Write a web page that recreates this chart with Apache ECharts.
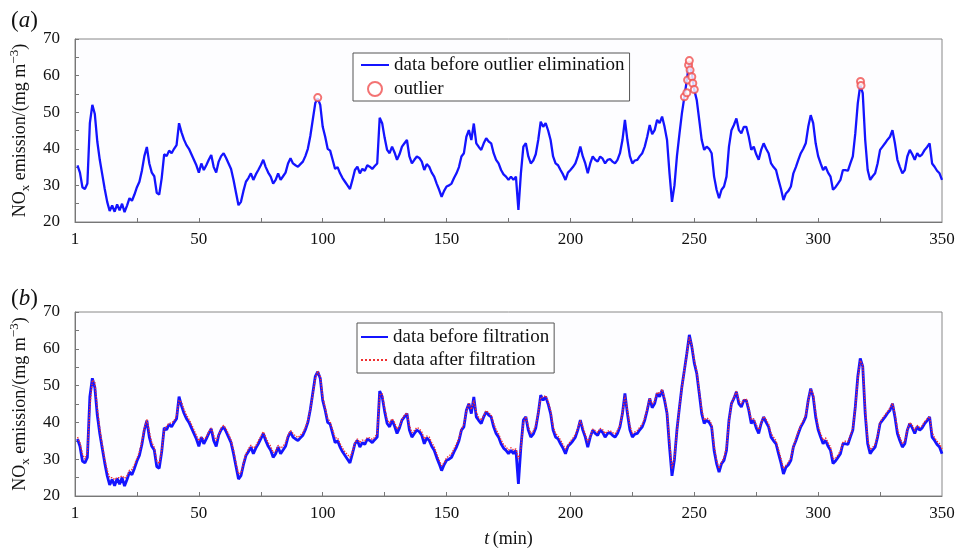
<!DOCTYPE html>
<html>
<head>
<meta charset="utf-8">
<script src="https://cdn.jsdelivr.net/npm/echarts@6/dist/echarts.min.js"></script>
<style>
  html, body { margin: 0; padding: 0; background: #fff; }
  #chart { width: 959px; height: 549px; }
</style>
</head>
<body>
<div id="chart"></div>
<script>
// NOx emission, one value per minute (t = 1..350)
const rawData = [
  35.5, 33.5, 29.5, 29, 30.5, 47, 52, 49.5, 42, 37,
  33, 29, 25.5, 23, 24.5, 22.8, 24.8, 23.2, 25, 22.7,
  24.5, 26.5, 25.8, 27.5, 29.5, 31, 34, 38, 40.5, 36,
  33.5, 32.5, 28, 27.5, 32, 38.5, 38, 39.5, 38.8, 40,
  41, 47, 44.5, 42.5, 41, 40, 38.5, 37, 35.5, 33.5,
  36, 34.2, 35.5, 37, 38.3, 35, 33.5, 36.5, 38, 38.8,
  37.5, 36, 34.5, 31.5, 28, 24.6, 25.5, 28.5, 31, 32,
  33.3, 31.5, 33, 34.2, 35.5, 37, 35, 33.5, 32.4, 30.5,
  31.5, 33.3, 31.5, 32.5, 33.5, 36, 37.4, 36, 35.5, 35.1,
  35.8, 36.5, 38, 40, 43.5, 48, 52.5, 53.8, 52, 46,
  43.3, 40, 39.5, 37, 34.5, 35, 33.3, 32, 31, 30,
  29, 31.5, 34.2, 35.1, 33.3, 34.5, 34, 35.5, 35.1, 34.5,
  35.3, 36, 48.5, 47, 43, 39.7, 38.8, 40.6, 39, 37,
  38.5, 40.6, 41.5, 42.4, 37.9, 36, 37, 37.9, 37.5, 36.5,
  34.2, 35.8, 35.1, 33.5, 32.4, 30.5, 28.8, 26.9, 28.5, 29.7,
  30, 30.5, 32, 33.3, 35, 37.9, 38.8, 43.3, 45.1, 42.4,
  46.9, 41.5, 40.5, 39.7, 41.5, 42.9, 42, 41.5, 38.8, 37,
  36, 34.2, 33, 32.4, 31.5, 32.4, 31.5, 32.4, 23.3, 33.3,
  40.6, 41.5, 37.9, 36, 36.8, 38.5, 42.4, 47.4, 46, 47,
  45, 42.4, 37.9, 36, 35.5, 34.2, 33, 31.5, 33.5, 34.2,
  35, 36, 38, 40.6, 37.9, 36, 33.3, 36, 37.9, 37,
  36.5, 37.9, 37.3, 36, 37, 37.2, 36.5, 36, 37, 38.8,
  42.4, 47.9, 42.4, 38, 36, 36.8, 37, 38, 38.8, 40.6,
  43.3, 46.5, 44, 45.1, 47.9, 47, 48.8, 46, 42.4, 33.3,
  25.5, 30, 38, 44, 49.7, 54.2, 58.8, 63.8, 60.6, 56.1,
  53.3, 47.9, 42.4, 39.7, 40.6, 40, 38.8, 32.4, 28.8, 26.5,
  28.8, 29.7, 32.4, 40.6, 45.1, 46.5, 48.3, 45.1, 44.2, 46,
  46, 43.3, 39.7, 40.6, 38.5, 37, 39.7, 41.5, 40, 38.8,
  36, 35, 34.2, 31.5, 29, 26, 27.8, 28.5, 29.7, 33.3,
  35, 37, 38.8, 40, 41.5, 46, 49.2, 47, 41.5, 38,
  36, 34.2, 35.1, 33.5, 32.4, 28.8, 29.5, 30.5, 31.5, 34.2,
  34.2, 34, 36, 37.9, 44.2, 52.4, 57.4, 55.2, 42.4, 34.2,
  31.5, 32.5, 33.3, 36, 39.7, 40.6, 41.5, 42.5, 43.3, 45.1,
  41.5, 37, 35, 33.3, 34.2, 37.9, 39.7, 38.5, 37, 38.8,
  37.9, 38.5, 39.7, 40.5, 41.5, 36, 35.1, 34, 33.3, 31.5
];

const filteredData = [
  36, 34.5, 31.5, 30, 32, 44, 51.5, 51, 44, 38.5,
  34, 30, 27, 25, 25, 24.5, 25, 25, 25.5, 24.8,
  25.5, 27, 27.2, 28.5, 30.2, 32, 34.8, 38.5, 40.8, 37.5,
  34.5, 33.2, 29.5, 28.8, 32.5, 38, 39, 39.8, 39.8, 40.5,
  41.8, 46, 45.5, 43.5, 42, 40.8, 39.5, 38, 36.5, 35,
  36, 35.5, 36, 37.5, 38.5, 36.5, 35, 36.5, 38.5, 39.2,
  38.2, 36.8, 35.2, 32.5, 29, 26, 26.2, 29, 31.5, 32.8,
  33.8, 33, 33.6, 35, 36.2, 37.5, 36, 34.5, 33.5, 31.8,
  32.2, 33.8, 33, 33.5, 34.5, 36.5, 37.8, 37, 36.3, 35.9,
  36.5, 37.3, 38.6, 40.5, 43.5, 47.5, 51.8, 54, 52.5, 47,
  44, 41, 40.2, 38, 35.8, 35.8, 34.3, 33, 32, 31.2,
  30.5, 32, 34.5, 35.5, 34.5, 35.2, 35, 35.9, 35.8, 35.4,
  35.9, 37, 47.5, 47.8, 44, 40.8, 39.8, 41, 40, 38.2,
  39, 40.9, 42, 42.6, 39.2, 37.2, 37.8, 38.6, 38.3, 37.4,
  35.5, 36.3, 36, 34.5, 33.4, 31.6, 29.8, 28.2, 29, 30.4,
  30.9, 31.4, 32.8, 34.2, 35.8, 38.2, 39.5, 43, 45.2, 43.5,
  46, 42.8, 41.3, 40.6, 41.9, 43.2, 42.6, 42, 39.8, 38,
  36.9, 35.2, 34, 33.3, 32.5, 33.1, 32.5, 32.8, 30, 33,
  39.8, 41.6, 39, 37, 37.6, 39.2, 42.5, 46.8, 46.8, 47.3,
  45.8, 43.2, 39, 37, 36.3, 35.2, 34, 32.7, 33.8, 34.9,
  35.7, 36.7, 38.5, 40.5, 38.8, 36.8, 34.6, 36.2, 38.2, 37.8,
  37.3, 38.4, 38, 37, 37.6, 37.8, 37.2, 36.9, 37.8, 39.3,
  42.5, 47.3, 43.5, 39.2, 37, 37.4, 37.8, 38.7, 39.5, 41.2,
  43.8, 46.6, 45, 45.8, 48.2, 47.8, 49, 46.8, 43, 35,
  27.5, 30.5, 37.5, 44, 49.5, 54, 58.5, 63.2, 61, 57,
  54, 48.8, 43.5, 40.6, 41.2, 40.8, 39.5, 33.8, 29.8, 27.5,
  29.2, 30.5, 33.2, 40, 45, 46.8, 48.5, 46, 45, 46.2,
  46.3, 44, 40.8, 41, 39.4, 38, 39.9, 41.6, 40.8, 39.6,
  37, 36, 35, 32.6, 30.2, 27.5, 28.3, 29.2, 30.4, 33.5,
  35.6, 37.5, 39.3, 40.6, 42, 45.8, 49, 47.8, 42.8, 39,
  37, 35.2, 35.8, 34.5, 33.3, 30.2, 30.2, 31.2, 32.3, 34.6,
  34.9, 34.8, 36.5, 38.5, 43.8, 51.5, 56.8, 55.5, 44, 35.5,
  32.6, 33.2, 34, 36.5, 40, 41.2, 42, 43, 43.9, 45.2,
  42.5, 38.2, 36, 34.2, 34.9, 38, 40, 39.2, 37.8, 39.2,
  38.6, 39.1, 40.2, 41, 41.6, 37.3, 35.8, 34.9, 34.2, 32.8
];

// outliers marked in panel (a)
const outlierT = [98, 246, 247, 247.3, 247.7, 248, 248.3, 249, 249.4, 250, 317.1, 317.3];
const outlierV = [54, 54.2, 55.3, 58.8, 62.9, 64.1, 61.5, 59.7, 57.9, 56.2, 58.4, 57.3];

const xLabels = [0, 50, 100, 150, 200, 250, 300, 350];
const xTicks = [25, 50, 75, 100, 125, 150, 175, 200, 225, 250, 275, 300, 325];

const SERIF = 'Liberation Serif, Times New Roman, serif';
const BLUE = '#1414ff';
const RED = '#f03030';

const toPairs = arr => arr.map((v, i) => [i + 1, v]);

function xAxisOpt(idx, withName) {
  return {
    type: 'value', gridIndex: idx, min: 0, max: 350,
    axisLine: { show: true, lineStyle: { color: '#777', width: 1 } },
    axisTick: { show: true, inside: true, length: 4, customValues: xTicks, lineStyle: { color: '#777' } },
    axisLabel: {
      customValues: xLabels, color: '#111', fontFamily: SERIF, fontSize: 17, margin: 9,
      formatter: v => (v === 0 ? '1' : String(v))
    },
    splitLine: { show: false },
    name: withName ? '{i|t} {n|(min)}' : '',
    nameLocation: 'middle', nameGap: 34,
    nameTextStyle: {
      rich: {
        i: { fontFamily: SERIF, fontSize: 18, fontStyle: 'italic', color: '#111' },
        n: { fontFamily: SERIF, fontSize: 18, color: '#111' }
      }
    }
  };
}

function yAxisOpt(idx) {
  return {
    type: 'value', gridIndex: idx, min: 20, max: 70, interval: 5,
    axisLine: { show: true, lineStyle: { color: '#777', width: 1 } },
    axisTick: { show: true, inside: true, length: 4, lineStyle: { color: '#777' } },
    axisLabel: {
      color: '#111', fontFamily: SERIF, fontSize: 17, margin: 15,
      formatter: v => (v % 10 === 0 ? String(v) : '')
    },
    splitLine: { show: false },
    name: '{n|NO}{s|x}{n| emission/(mg m}{u|−3}{n|)}',
    nameLocation: 'middle', nameRotate: 90, nameGap: 43,
    nameTextStyle: {
      rich: {
        n: { fontFamily: SERIF, fontSize: 18, color: '#111', lineHeight: 24 },
        s: { fontFamily: SERIF, fontSize: 13, color: '#111', lineHeight: 24, verticalAlign: 'bottom' },
        u: { fontFamily: SERIF, fontSize: 13, color: '#111', lineHeight: 24, verticalAlign: 'top' }
      }
    }
  };
}

const chart = echarts.init(document.getElementById('chart'), null, { renderer: 'canvas' });

const titleRich = {
  p: { fontFamily: SERIF, fontSize: 23, fontWeight: 'normal', color: '#111' },
  i: { fontFamily: SERIF, fontSize: 23, fontWeight: 'normal', fontStyle: 'italic', color: '#111' }
};

// line-only legend icons (hide the symbol the line legend draws)
const noSymbol = { opacity: 0 };

chart.setOption({
  backgroundColor: '#fff',
  animation: false,
  title: [
    { text: '{p|(}{i|a}{p|)}', left: 6, top: 4, textStyle: { fontWeight: 'normal', rich: titleRich } },
    { text: '{p|(}{i|b}{p|)}', left: 6, top: 282, textStyle: { fontWeight: 'normal', rich: titleRich } }
  ],
  grid: [
    { left: 74, right: 17, top: 39, height: 183, show: true, borderColor: '#888', borderWidth: 1, backgroundColor: '#fdfdff' },
    { left: 74, right: 17, top: 312, height: 184, show: true, borderColor: '#888', borderWidth: 1, backgroundColor: '#fdfdff' }
  ],
  xAxis: [xAxisOpt(0, false), xAxisOpt(1, true)],
  yAxis: [yAxisOpt(0), yAxisOpt(1)],
  legend: [
    {
      data: [{ name: 'data before outlier elimination', itemStyle: noSymbol }, 'outlier'],
      orient: 'vertical', left: 353, top: 53,
      padding: [2, 5, 2, 7], itemGap: 4, itemWidth: 28, itemHeight: 14,
      borderColor: '#555', borderWidth: 1, backgroundColor: '#fff',
      textStyle: { fontFamily: SERIF, fontSize: 19, color: '#111', lineHeight: 20 }
    },
    {
      data: [
        { name: 'data before filtration', itemStyle: noSymbol },
        { name: 'data after filtration', itemStyle: noSymbol }
      ],
      orient: 'vertical', left: 357, top: 323,
      padding: [4, 5, 3, 3], itemGap: 3, itemWidth: 27, itemHeight: 14,
      borderColor: '#555', borderWidth: 1, backgroundColor: '#fff',
      textStyle: { fontFamily: SERIF, fontSize: 19, color: '#111', lineHeight: 20 }
    }
  ],
  series: [
    {
      name: 'data before outlier elimination', type: 'line', xAxisIndex: 0, yAxisIndex: 0,
      data: toPairs(rawData), symbol: 'none', color: BLUE,
      lineStyle: { color: BLUE, width: 2.3 }, z: 2
    },
    {
      name: 'outlier', type: 'scatter', xAxisIndex: 0, yAxisIndex: 0,
      data: outlierT.map((t, i) => [t, outlierV[i]]),
      symbol: 'emptyCircle', symbolSize: 7, color: '#f05050',
      itemStyle: { color: '#f05050', borderColor: '#f05050', borderWidth: 1 }, z: 3
    },
    {
      name: 'data before filtration', type: 'line', xAxisIndex: 1, yAxisIndex: 1,
      data: toPairs(rawData), symbol: 'none', color: BLUE,
      lineStyle: { color: BLUE, width: 2.8 }, z: 2
    },
    {
      name: 'data after filtration', type: 'line', xAxisIndex: 1, yAxisIndex: 1,
      data: toPairs(filteredData), symbol: 'none', color: RED,
      lineStyle: { color: RED, width: 1.4, type: 'dotted' }, z: 3
    }
  ]
});
</script>
</body>
</html>
